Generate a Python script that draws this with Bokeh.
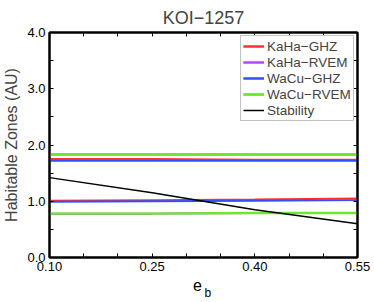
from bokeh.plotting import figure
from bokeh.models import (FixedTicker, PrintfTickFormatter, LinearAxis, Range1d,
                          CustomJSTickFormatter)
from bokeh.embed import file_html
from bokeh.resources import INLINE

ecc = [0.10, 0.25, 0.40, 0.55]
kaha_ghz_in = [1.01, 1.02, 1.03, 1.05]
kaha_ghz_out = [1.75, 1.75, 1.74, 1.74]
kaha_rvem_in = [0.78, 0.78, 0.79, 0.79]
kaha_rvem_out = [1.83, 1.83, 1.83, 1.83]
wacu_ghz_in = [0.99, 1.00, 1.01, 1.02]
wacu_ghz_out = [1.72, 1.72, 1.72, 1.72]
wacu_rvem_in = [0.78, 0.78, 0.79, 0.79]
wacu_rvem_out = [1.83, 1.83, 1.83, 1.83]
stability = [1.42, 1.15, 0.85, 0.60]

x_major = [0.10, 0.25, 0.40, 0.55]
x_minor = [0.15, 0.20, 0.30, 0.35, 0.45, 0.50]
y_major = [0.0, 1.0, 2.0, 3.0, 4.0]
y_minor = [0.5, 1.5, 2.5, 3.5]
x_title = "e"
x_title_sub = "b"

FONT = "Liberation Sans"

p = figure(frame_width=308, frame_height=225, output_backend="svg", toolbar_location=None,
           x_range=Range1d(0.10, 0.55), y_range=Range1d(0.0, 4.0),
           min_border_left=49, min_border_right=17, min_border_top=32, min_border_bottom=45,
           title="KOI\u22121257")
p.title.align = "center"
p.title.text_font = FONT
p.title.text_font_style = "normal"
p.title.text_font_size = "18px"
p.title.standoff = 9
p.xgrid.visible = False
p.ygrid.visible = False
p.outline_line_color = "black"
p.outline_line_width = 2

series = [
    ("KaHa\u2212GHZ", "#ff3030", kaha_ghz_in, kaha_ghz_out, 2),
    ("KaHa\u2212RVEM", "#b446ff", kaha_rvem_in, kaha_rvem_out, 2),
    ("WaCu\u2212GHZ", "#3050ff", wacu_ghz_in, wacu_ghz_out, 2),
    ("WaCu\u2212RVEM", "#6ee62a", wacu_rvem_in, wacu_rvem_out, 2.4),
]
for name, col, a, b, w in series:
    p.line(ecc, a, color=col, line_width=w, legend_label=name)
    p.line(ecc, b, color=col, line_width=w, legend_label=name)
p.line(ecc, stability, color="black", line_width=1.5, legend_label="Stability")

def style_axis(ax, labels=True):
    ax.axis_line_width = 2
    ax.axis_line_color = "black"
    ax.major_tick_in = 4
    ax.major_tick_out = 0
    ax.minor_tick_in = 4
    ax.minor_tick_out = 0
    ax.major_tick_line_width = 1
    ax.minor_tick_line_width = 1
    ax.major_label_text_font = FONT
    ax.major_label_text_font_size = "13px"
    ax.major_label_text_color = "black"
    ax.major_label_standoff = 4
    if not labels:
        ax.major_label_text_alpha = 0
        ax.major_label_text_font_size = "1px"
        ax.major_label_standoff = 0

xa = p.xaxis[0]
xa.ticker = FixedTicker(ticks=x_major, minor_ticks=x_minor)
xa.formatter = PrintfTickFormatter(format="%.2f")
style_axis(xa)
ya = p.yaxis[0]
ya.ticker = FixedTicker(ticks=y_major, minor_ticks=y_minor)
ya.formatter = PrintfTickFormatter(format="%.1f")
style_axis(ya)
ya.axis_label = "Habitable Zones (AU)"
ya.axis_label_text_font = FONT
ya.axis_label_text_font_style = "normal"
ya.axis_label_text_font_size = "16px"
ya.axis_label_standoff = 4

top = LinearAxis(ticker=FixedTicker(ticks=x_major, minor_ticks=x_minor))
style_axis(top, labels=False)
p.add_layout(top, "above")
right = LinearAxis(ticker=FixedTicker(ticks=y_major, minor_ticks=y_minor))
style_axis(right, labels=False)
p.add_layout(right, "right")

def text_axis(pos, txt, size, standoff):
    ax = LinearAxis(ticker=FixedTicker(ticks=[pos], minor_ticks=[]),
                    formatter=CustomJSTickFormatter(code="return %r;" % txt))
    ax.axis_line_color = None
    ax.major_tick_line_color = None
    ax.minor_tick_line_color = None
    ax.major_tick_in = 0
    ax.major_tick_out = 0
    ax.minor_tick_in = 0
    ax.minor_tick_out = 0
    ax.major_label_text_font = FONT
    ax.major_label_text_font_size = size
    ax.major_label_text_color = "black"
    ax.major_label_standoff = standoff
    p.add_layout(ax, "below")

text_axis(0.316, x_title, "16px", 5)
text_axis(0.3314, x_title_sub, "12px", -8)

lg = p.legend[0]
lg.location = (191, 136)
lg.label_text_font = FONT
lg.label_text_font_size = "13.5px"
lg.label_height = 16
lg.glyph_height = 16
lg.glyph_width = 21
lg.label_standoff = 3
lg.spacing = 0
lg.padding = 2
lg.margin = 0
lg.border_line_color = "#888888"
lg.border_line_width = 1

open("out.html", "w").write(file_html(p, INLINE))
